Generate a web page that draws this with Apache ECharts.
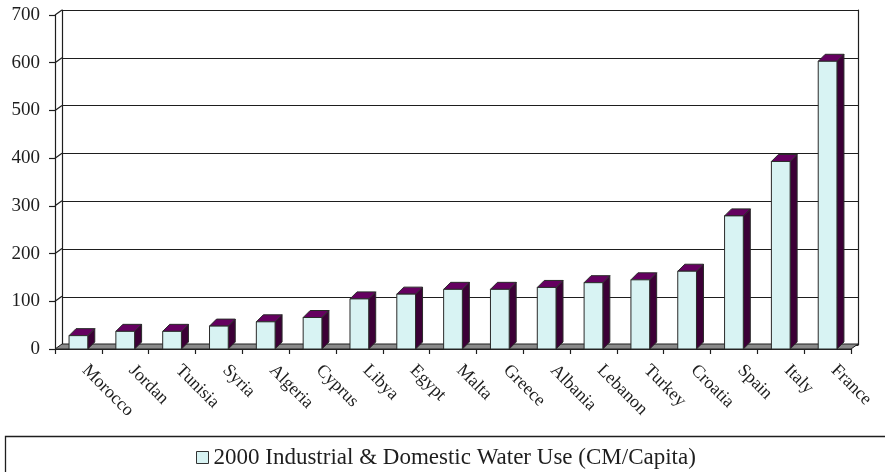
<!DOCTYPE html>
<html>
<head>
<meta charset="utf-8">
<script src="https://cdn.jsdelivr.net/npm/echarts@6/dist/echarts.min.js"></script>
<style>
  html, body { margin: 0; padding: 0; background: #fff; }
  #chart { width: 885px; height: 472px; }
</style>
</head>
<body>
<div id="chart"></div>
<script>
// Per-capita industrial & domestic water use in 2000, Mediterranean countries
const categories = ['Morocco', 'Jordan', 'Tunisia', 'Syria', 'Algeria', 'Cyprus', 'Libya', 'Egypt',
  'Malta', 'Greece', 'Albania', 'Lebanon', 'Turkey', 'Croatia', 'Spain', 'Italy', 'France'];
const waterUse = [28, 37, 37, 48, 57, 66, 105, 115, 125, 125, 129, 139, 145, 163, 279, 393, 603];
const yTicks = [0, 100, 200, 300, 400, 500, 600, 700];
const seriesName = '2000 Industrial & Domestic Water Use (CM/Capita)';

const FONT = 'Liberation Serif';
const INK = '#1e1e1e';
const FACE = '#d8f3f3';
const TOP = '#650060';
const SIDE = '#3c0036';
const WALL_DEPTH = [7, -5];
const BAR_DEPTH = [7, -7];

const chart = echarts.init(document.getElementById('chart'), null, { renderer: 'canvas' });

// floor slab and the small connectors on the left wall
function renderFrame(params, api) {
  const cs = params.coordSys;
  const x0 = cs.x, x1 = cs.x + cs.width;
  const yBase = api.coord([0, 0])[1];
  const [dx, dy] = WALL_DEPTH;
  const children = [{
    type: 'polygon',
    shape: { points: [[x0, yBase], [x1, yBase], [x1 + dx, yBase + dy], [x0 + dx, yBase + dy]] },
    style: { fill: '#8a8a8a', stroke: INK, lineWidth: 1 }
  }];
  yTicks.forEach(function (t) {
    if (t === 0) return;
    const y = api.coord([0, t])[1];
    children.push({
      type: 'line',
      shape: { x1: x0, y1: y, x2: x0 + dx, y2: y + dy },
      style: { stroke: INK, lineWidth: 1.2 }
    });
  });
  return { type: 'group', children: children };
}

// 3D-style column: front face, top face, right side face
function renderBar(params, api) {
  const idx = api.value(0);
  const top = api.coord([idx, api.value(1)]);
  const base = api.coord([idx, 0]);
  const w = api.size([1, 0])[0] * 0.4;
  const left = top[0] - w / 2;
  const right = left + w;
  const [dx, dy] = BAR_DEPTH;
  const edge = { stroke: '#2a2a2a', lineWidth: 1 };
  return {
    type: 'group',
    children: [
      {
        type: 'polygon',
        shape: { points: [[right, top[1]], [right + dx, top[1] + dy], [right + dx, base[1] + dy], [right, base[1]]] },
        style: Object.assign({ fill: SIDE }, edge)
      },
      {
        type: 'polygon',
        shape: { points: [[left, top[1]], [right, top[1]], [right + dx, top[1] + dy], [left + dx, top[1] + dy]] },
        style: Object.assign({ fill: TOP }, edge)
      },
      {
        type: 'rect',
        shape: { x: left, y: top[1], width: w, height: base[1] - top[1] },
        style: Object.assign({ fill: FACE }, edge)
      }
    ]
  };
}

const option = {
  backgroundColor: '#ffffff',
  animation: false,
  textStyle: { fontFamily: FONT, color: INK },
  grid: [
    { left: 55, right: 34, top: 15, bottom: 123 },
    { left: 62, right: 27, top: 10, bottom: 127 }
  ],
  xAxis: [
    {
      type: 'category', gridIndex: 0, data: categories, boundaryGap: true,
      axisLine: { show: true, lineStyle: { color: INK, width: 1 } },
      axisTick: { show: true, length: 5, lineStyle: { color: INK, width: 1.2 } },
      axisLabel: {
        rotate: -45, margin: 25, verticalAlign: 'bottom',
        fontFamily: FONT, fontSize: 18, color: INK, interval: 0
      },
      splitLine: { show: false }
    },
    { type: 'value', gridIndex: 1, min: 0, max: 1, show: false }
  ],
  yAxis: [
    {
      type: 'value', gridIndex: 0, min: 0, max: 700, interval: 100,
      axisLine: { show: true, lineStyle: { color: INK, width: 1.2 } },
      axisTick: { show: true, length: 6, lineStyle: { color: INK, width: 1.2 } },
      axisLabel: { margin: 15, fontFamily: FONT, fontSize: 19, color: INK },
      splitLine: { show: false }
    },
    {
      type: 'value', gridIndex: 1, min: 0, max: 700, interval: 100,
      axisLine: { show: true, lineStyle: { color: INK, width: 1.2 } },
      axisTick: { show: false }, axisLabel: { show: false },
      splitLine: { show: true, lineStyle: { color: INK, width: 1.2 } }
    },
    {
      type: 'value', gridIndex: 1, position: 'right', min: 0, max: 700, interval: 100,
      axisLine: { show: true, lineStyle: { color: INK, width: 1.2 } },
      axisTick: { show: false }, axisLabel: { show: false }, splitLine: { show: false }
    }
  ],
  legend: {
    left: 191, top: 441,
    icon: 'rect', itemWidth: 12, itemHeight: 12, itemGap: 5,
    textStyle: { fontFamily: FONT, fontSize: 23, color: INK },
    data: [{ name: seriesName, itemStyle: { color: FACE, borderColor: '#333', borderWidth: 1 } }]
  },
  graphic: [{
    type: 'rect', left: 3, top: 434,
    shape: { width: 900, height: 60 },
    style: { fill: 'none', stroke: INK, lineWidth: 1.3 }
  }],
  series: [
    {
      name: 'frame', type: 'custom', xAxisIndex: 0, yAxisIndex: 0, z: 1,
      silent: true, renderItem: renderFrame, data: [[0, 0]]
    },
    {
      name: seriesName, type: 'custom', xAxisIndex: 0, yAxisIndex: 0, z: 3,
      itemStyle: { color: FACE },
      renderItem: renderBar,
      encode: { x: 0, y: 1 },
      data: waterUse.map(function (v, i) { return [i, v]; })
    }
  ]
};

chart.setOption(option);
</script>
</body>
</html>
